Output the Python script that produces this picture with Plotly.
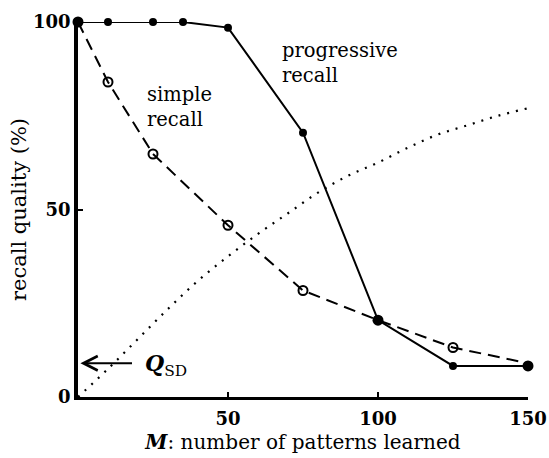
import plotly.graph_objects as go

# Data
prog_x = [0, 10, 25, 35, 50, 75, 100, 125, 150]
prog_y = [100, 100, 100, 100, 98.5, 70.5, 20.5, 8.3, 8.3]

simple_x = [0, 10, 25, 50, 75, 100, 125, 150]
simple_y = [100, 84, 64.8, 45.8, 28.4, 20.5, 13.2, 9]
simple_marker_x = [10, 25, 50, 75, 125]
simple_marker_y = [84, 64.8, 45.8, 28.4, 13.2]

big_dot_x = [0, 100, 150]
big_dot_y = [100, 20.5, 8.3]

dotted_x = [0, 10, 20, 30, 40, 50, 60, 70, 80, 90, 100, 110, 120, 130, 140, 150]
dotted_y = [0, 7.5, 15.5, 23.5, 31, 37.5, 43.5, 49, 54.5, 59, 62.5, 66.5, 70, 72.5, 75, 77]

x_ticks = [50, 100, 150]
y_ticks = [0, 50, 100]
q_sd = 9

FONT = "DejaVu Serif"

fig = go.Figure()

fig.add_trace(go.Scatter(x=dotted_x, y=dotted_y, mode="lines",
                         line=dict(color="black", width=2.2, dash="2px,7px", shape="spline"),
                         cliponaxis=False, hoverinfo="skip"))
fig.add_trace(go.Scatter(x=simple_x, y=simple_y, mode="lines",
                         line=dict(color="black", width=2, dash="12px,7px"),
                         cliponaxis=False, hoverinfo="skip"))
fig.add_trace(go.Scatter(x=simple_marker_x, y=simple_marker_y, mode="markers",
                         marker=dict(symbol="circle-open", size=9, color="black",
                                     line=dict(width=2, color="black")),
                         cliponaxis=False, hoverinfo="skip"))
fig.add_trace(go.Scatter(x=prog_x, y=prog_y, mode="lines+markers",
                         line=dict(color="black", width=2),
                         marker=dict(symbol="circle", size=8, color="black"),
                         cliponaxis=False, hoverinfo="skip"))
fig.add_trace(go.Scatter(x=big_dot_x, y=big_dot_y, mode="markers",
                         marker=dict(symbol="circle", size=11, color="black"),
                         cliponaxis=False, hoverinfo="skip"))

fig.add_annotation(x=0.8, y=q_sd, ax=18.5, ay=q_sd, xref="x", yref="y", axref="x", ayref="y",
                   text="", showarrow=True, arrowhead=5, arrowsize=1.4, arrowwidth=2,
                   arrowcolor="black")
fig.add_annotation(x=21.5, y=q_sd - 0.5, xref="x", yref="y", xanchor="left", yanchor="middle",
                   text="<b><i>Q</i></b><sub>SD</sub>", showarrow=False,
                   font=dict(family=FONT, size=22, color="black"))
fig.add_annotation(x=22.3, y=77.3, xref="x", yref="y", xanchor="left", yanchor="middle",
                   text="simple<br>recall", showarrow=False, align="left",
                   font=dict(family=FONT, size=19.5, color="black"))
fig.add_annotation(x=67.3, y=89, xref="x", yref="y", xanchor="left", yanchor="middle",
                   text="progressive<br>recall", showarrow=False, align="left",
                   font=dict(family=FONT, size=19.5, color="black"))

fig.update_layout(
    width=549, height=458,
    margin=dict(l=78, r=21, t=22, b=61),
    plot_bgcolor="white", paper_bgcolor="white",
    showlegend=False,
    font=dict(family=FONT, color="black"),
    xaxis=dict(range=[0, 150], showgrid=False, zeroline=False, showline=True, automargin=False,
               linecolor="black", linewidth=2.5, ticks="inside", ticklen=5, tickwidth=2,
               tickcolor="black", tickvals=x_ticks, ticktext=[f"<b>{v}</b>" for v in x_ticks],
               tickfont=dict(family=FONT, size=18, color="black"), ticklabelstandoff=4,
               title=dict(text="<b><i>M</i></b>: number of patterns learned",
                          font=dict(family=FONT, size=20, color="black"), standoff=7)),
    yaxis=dict(range=[0, 100], showgrid=False, zeroline=False, showline=True, automargin=False,
               linecolor="black", linewidth=3.5, ticks="inside", ticklen=5, tickwidth=2,
               tickcolor="black", tickvals=y_ticks, ticktext=[f"<b>{v}</b>" for v in y_ticks],
               tickfont=dict(family=FONT, size=18, color="black"),
               title=dict(text="recall quality (%)",
                          font=dict(family=FONT, size=21, color="black"), standoff=2)),
)

# remove the browser's default 8px body margin so the figure fills the window exactly
fig.write_html("out.html",
               config={"displayModeBar": False},
               post_script="document.body.style.margin='0';document.body.style.overflow='hidden';")
